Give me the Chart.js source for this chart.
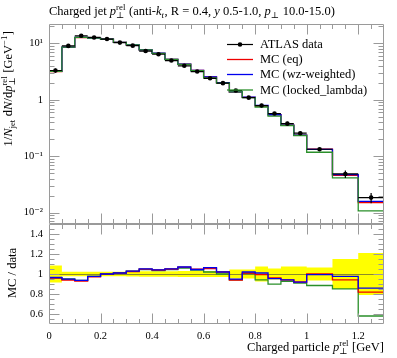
<!DOCTYPE html>
<html><head><meta charset="utf-8">
<script src="https://cdn.jsdelivr.net/npm/chart.js@4/dist/chart.umd.min.js"></script>
<style>
html,body{margin:0;padding:0;background:#fff;}
#wrap{position:relative;width:397px;height:358px;overflow:hidden;}
canvas{position:absolute;left:0;top:0;}
</style></head><body>
<div id="wrap"><canvas id="main" width="397" height="358"></canvas><canvas id="ratio" width="397" height="358"></canvas></div>
<script>
// ---------- data ----------
const binEdges = [0,0.05,0.1,0.15,0.2,0.25,0.3,0.35,0.4,0.45,0.5,0.55,0.6,0.65,0.7,0.75,0.8,0.85,0.9,0.95,1.0,1.1,1.2,1.3];
const dataVals = [3.3,9.0,13.6,12.7,11.9,10.3,9.1,7.3,6.4,4.95,4.0,3.16,2.4,1.97,1.46,1.09,0.79,0.57,0.378,0.256,0.133,0.0485,0.0185];
const dataRelErr = [0.085,0.022,0.022,0.022,0.022,0.022,0.025,0.028,0.028,0.028,0.03,0.03,0.03,0.03,0.045,0.045,0.075,0.055,0.075,0.075,0.065,0.15,0.21];
const ratioEq = [0.96,0.94,0.928,0.972,0.998,1.008,1.025,1.048,1.04,1.05,1.068,1.048,1.055,1.02,0.94,1.01,0.993,0.96,0.942,0.92,1.0,0.942,0.818];
const ratioWz = [0.965,0.948,0.937,0.976,1.0,1.01,1.028,1.052,1.042,1.052,1.07,1.045,1.063,1.02,0.948,1.02,1.01,0.953,0.942,0.919,0.993,0.976,0.858];
const ratioLocked = [0.962,0.95,0.937,0.976,1.0,1.01,1.028,1.045,1.035,1.045,1.06,1.04,1.02,1.0,0.942,1.003,0.942,0.899,0.926,0.909,0.885,0.852,0.58];
const seriesLabels = ['ATLAS data','MC (eq)','MC (wz-weighted)','MC (locked_lambda)'];
const xTickValues = [0,0.2,0.4,0.6,0.8,1.0,1.2];
const xTickLabels = ['0','0.2','0.4','0.6','0.8','1','1.2'];
const yMainTickValues = [0.01,0.1,1,10];
const yMainTickLabels = ['10\u207B\u00B2','10\u207B\u00B9','1','10\u00B9'];
const yRatioTickValues = [0.6,0.8,1.0,1.2,1.4];
const yRatioTickLabels = ['0.6','0.8','1','1.2','1.4'];

// ---------- helpers ----------
const FAM = '"Liberation Serif","DejaVu Serif",serif';
const TS = 12.5;
const COL = {data:'#000000', eq:'#ee0000', wz:'#0000ee', locked:'#2a8f2a'};
const nBins = dataVals.length;
const centers = dataVals.map((v,i)=>(binEdges[i]+binEdges[i+1])/2);
function hist(vals){ const p = vals.map((v,i)=>({x:binEdges[i],y:v})); p.push({x:binEdges[nBins],y:vals[nBins-1]}); return p; }
const mcEq = dataVals.map((v,i)=>v*ratioEq[i]);
const mcWz = dataVals.map((v,i)=>v*ratioWz[i]);
const mcLocked = dataVals.map((v,i)=>v*ratioLocked[i]);

function fnt(it,size){ return (it?'italic ':'')+size+'px '+FAM; }
function segWidth(ctx,s,size){
  if(s.t!==undefined){ ctx.font=fnt(s.it,size); return ctx.measureText(s.t).width; }
  const sm=size*0.7; let w=0;
  if(s.sup){ ctx.font=fnt(s.supIt,sm); w=Math.max(w,ctx.measureText(s.sup).width); }
  if(s.sub){ ctx.font=fnt(s.subIt,sm); w=Math.max(w,ctx.measureText(s.sub).width); }
  return w+0.5;
}
function drawRich(ctx,segs,x,y,size,align){
  let total=0; segs.forEach(s=>total+=segWidth(ctx,s,size));
  let cx = align==='right'? x-total : (align==='center'? x-total/2 : x);
  ctx.textBaseline='alphabetic'; ctx.textAlign='left'; ctx.fillStyle='#000';
  segs.forEach(s=>{
    const w=segWidth(ctx,s,size);
    if(s.t!==undefined){ ctx.font=fnt(s.it,size); ctx.fillText(s.t,cx,y); }
    else { const sm=size*0.7;
      if(s.sup){ ctx.font=fnt(s.supIt,sm); ctx.fillText(s.sup,cx,y-size*0.4); }
      if(s.sub){ ctx.font=fnt(s.subIt,sm); ctx.fillText(s.sub,cx,y+size*0.25); }
    }
    cx+=w;
  });
}

function drawFrameTicks(chart, yMajor, yMinor){
  const ctx=chart.ctx, a=chart.chartArea, xs=chart.scales.x, ys=chart.scales.y;
  ctx.save(); ctx.strokeStyle='#9a9a9a'; ctx.lineWidth=1;
  ctx.beginPath();
  const L=a.left+0.5, R=a.right-0.5, T=a.top+0.5, B=a.bottom-0.5;
  ctx.moveTo(L,T); ctx.lineTo(R,T); ctx.lineTo(R,B); ctx.lineTo(L,B); ctx.closePath();
  for(let v=0; v<=1.3001; v+=0.05){
    const major = Math.abs(v/0.2-Math.round(v/0.2))<1e-6;
    const len = major?10:4.5; const px=Math.round(xs.getPixelForValue(v))+0.5;
    if(px<=a.left+1||px>=a.right-1) continue;
    ctx.moveTo(px,B); ctx.lineTo(px,B-len); ctx.moveTo(px,T); ctx.lineTo(px,T+len);
  }
  const ticks=[...yMajor.map(v=>[v,10]),...yMinor.map(v=>[v,5])];
  ticks.forEach(([v,len])=>{
    const py=Math.round(ys.getPixelForValue(v))+0.5;
    if(py<=a.top+1||py>=a.bottom-1) return;
    ctx.moveTo(L,py); ctx.lineTo(L+len,py); ctx.moveTo(R,py); ctx.lineTo(R-len,py);
  });
  ctx.stroke(); ctx.restore();
}

const mainMinor=[]; [0.001,0.01,0.1,1,10].forEach(d=>{ for(let k=2;k<=9;k++) mainMinor.push(d*k); });
const ratioMinor=[]; for(let k=10;k<=30;k++){ const v=k*0.05; if(Math.abs(v*5-Math.round(v*5))>1e-6) ratioMinor.push(v); }

const mainPlugin = {
  id:'mainDeco',
  afterDatasetsDraw(chart){
    const ctx=chart.ctx, xs=chart.scales.x, ys=chart.scales.y;
    ctx.save(); ctx.strokeStyle='#000'; ctx.lineWidth=1.2; ctx.beginPath();
    dataVals.forEach((v,i)=>{
      const y=ys.getPixelForValue(v);
      ctx.moveTo(xs.getPixelForValue(binEdges[i]),y); ctx.lineTo(xs.getPixelForValue(binEdges[i+1]),y);
      const cx=xs.getPixelForValue(centers[i]);
      ctx.moveTo(cx,ys.getPixelForValue(v*(1+dataRelErr[i]))); ctx.lineTo(cx,ys.getPixelForValue(v*(1-dataRelErr[i])));
    });
    ctx.stroke(); ctx.restore();
  },
  afterDraw(chart){
    drawFrameTicks(chart, yMainTickValues, mainMinor);
    const ctx=chart.ctx;
    ctx.save();
    drawRich(ctx,[{t:'Charged jet '},{t:'p',it:true},{sup:'rel',sub:'\u22A5'},{t:' (anti-'},{t:'k',it:true},{sub:'t',subIt:true},{t:', R = 0.4, '},{t:'y',it:true},{t:' 0.5-1.0, '},{t:'p',it:true},{sub:'\u22A5'},{t:' 10.0-15.0)'}],49,15,TS,'left');
    ctx.save(); ctx.translate(12,31); ctx.rotate(-Math.PI/2);
    drawRich(ctx,[{t:'1/'},{t:'N',it:true},{sub:'jet'},{t:' d'},{t:'N',it:true},{t:'/d'},{t:'p',it:true},{sup:'rel',sub:'\u22A5'},{t:' [GeV'},{sup:'\u22121'},{t:']'}],0,0,TS,'right');
    ctx.restore();
    const ds=chart.data.datasets; const rows=[44,59,74,89.5];
    [0,1,2,3].forEach((k,r)=>{
      const d=ds[k]; const y=rows[r];
      ctx.strokeStyle=d.borderColor||'#000'; ctx.lineWidth=k===0?1.2:1.3;
      ctx.beginPath(); ctx.moveTo(227,y+0.5); ctx.lineTo(253,y+0.5); ctx.stroke();
      if(k===0){ ctx.fillStyle='#000'; ctx.beginPath(); ctx.arc(240,y+0.5,2.3,0,Math.PI*2); ctx.fill(); }
      ctx.fillStyle='#000'; ctx.font=fnt(false,TS); ctx.textBaseline='middle'; ctx.textAlign='left';
      ctx.fillText(d.label,260,y+1);
    });
    ctx.restore();
  }
};

const ratioPlugin = {
  id:'ratioDeco',
  afterDatasetDraw(chart,args){
    if(args.index===1){
      const ctx=chart.ctx, a=chart.chartArea, ys=chart.scales.y;
      const py=Math.round(ys.getPixelForValue(1))+0.5;
      ctx.save(); ctx.strokeStyle='rgba(90,90,60,0.7)'; ctx.lineWidth=1;
      ctx.beginPath(); ctx.moveTo(a.left,py); ctx.lineTo(a.right,py); ctx.stroke(); ctx.restore();
    }
  },
  afterDraw(chart){
    drawFrameTicks(chart, yRatioTickValues, ratioMinor);
    const ctx=chart.ctx;
    ctx.save();
    drawRich(ctx,[{t:'Charged particle '},{t:'p',it:true},{sup:'rel',sub:'\u22A5'},{t:' [GeV]'}],384,351,TS,'right');
    ctx.translate(16,248); ctx.rotate(-Math.PI/2);
    drawRich(ctx,[{t:'MC / data'}],0,0,TS,'right');
    ctx.restore();
  }
};

const common = {
  responsive:false, animation:false, events:[],
  plugins:{legend:{display:false},tooltip:{enabled:false},title:{display:false}},
  elements:{point:{radius:0}, line:{tension:0}}
};
function lineDs(label,vals,color,order){
  return {label, data:hist(vals), borderColor:color, backgroundColor:color, borderWidth:1.3, stepped:'before', pointRadius:0, fill:false, order};
}

new Chart(document.getElementById('main'),{
  type:'line',
  data:{datasets:[
    {label:seriesLabels[0], data:centers.map((c,i)=>({x:c,y:dataVals[i]})), showLine:false, pointRadius:2.3, pointBackgroundColor:'#000', pointBorderWidth:0, borderColor:'#000', order:0},
    lineDs(seriesLabels[1],mcEq,COL.eq,3),
    lineDs(seriesLabels[2],mcWz,COL.wz,2),
    lineDs(seriesLabels[3],mcLocked,COL.locked,1)
  ]},
  options:Object.assign({},common,{
    layout:{padding:{top:24,bottom:134,left:0,right:13}},
    scales:{
      x:{type:'linear',min:0,max:1.3,display:false},
      y:{type:'logarithmic',min:0.0063,max:22,
        afterFit(s){s.width=49;},
        afterBuildTicks(s){ s.ticks=yMainTickValues.map(v=>({value:v})); },
        grid:{display:false,drawTicks:false}, border:{display:false},
        ticks:{color:'#000',padding:6,font:{family:FAM,size:10.5},
          callback:(v)=>{ const i=yMainTickValues.findIndex(t=>Math.abs(t-v)/t<1e-6); return i>=0?yMainTickLabels[i]:''; }}
      }
    }
  }),
  plugins:[mainPlugin]
});

new Chart(document.getElementById('ratio'),{
  type:'line',
  data:{datasets:[
    {label:'band-low', data:hist(dataRelErr.map(e=>1-e)), borderWidth:0, borderColor:'rgba(0,0,0,0)', stepped:'before', pointRadius:0, fill:false, order:11},
    {label:'band-high', data:hist(dataRelErr.map(e=>1+e)), borderWidth:0, borderColor:'rgba(0,0,0,0)', backgroundColor:'#ffff00', stepped:'before', pointRadius:0, fill:'-1', order:10},
    lineDs(seriesLabels[1],ratioEq,COL.eq,3),
    lineDs(seriesLabels[2],ratioWz,COL.wz,2),
    lineDs(seriesLabels[3],ratioLocked,COL.locked,4)
  ]},
  options:Object.assign({},common,{
    layout:{padding:{top:224,bottom:0,left:0,right:13}},
    scales:{
      x:{type:'linear',min:0,max:1.3,
        afterFit(s){s.height=34;},
        afterBuildTicks(s){ s.ticks=xTickValues.map(v=>({value:v})); },
        grid:{display:false,drawTicks:false}, border:{display:false},
        ticks:{color:'#000',padding:6,maxRotation:0,font:{family:FAM,size:10.5},
          callback:(v)=>{ const i=xTickValues.findIndex(t=>Math.abs(t-v)<1e-6); return i>=0?xTickLabels[i]:''; }}
      },
      y:{min:0.5,max:1.5,
        afterFit(s){s.width=49;},
        afterBuildTicks(s){ s.ticks=yRatioTickValues.map(v=>({value:v})); },
        grid:{display:false,drawTicks:false}, border:{display:false},
        ticks:{color:'#000',padding:6,font:{family:FAM,size:10.5},
          callback:(v)=>{ const i=yRatioTickValues.findIndex(t=>Math.abs(t-v)<1e-6); return i>=0?yRatioTickLabels[i]:''; }}
      }
    }
  }),
  plugins:[ratioPlugin]
});
</script>
</body></html>
